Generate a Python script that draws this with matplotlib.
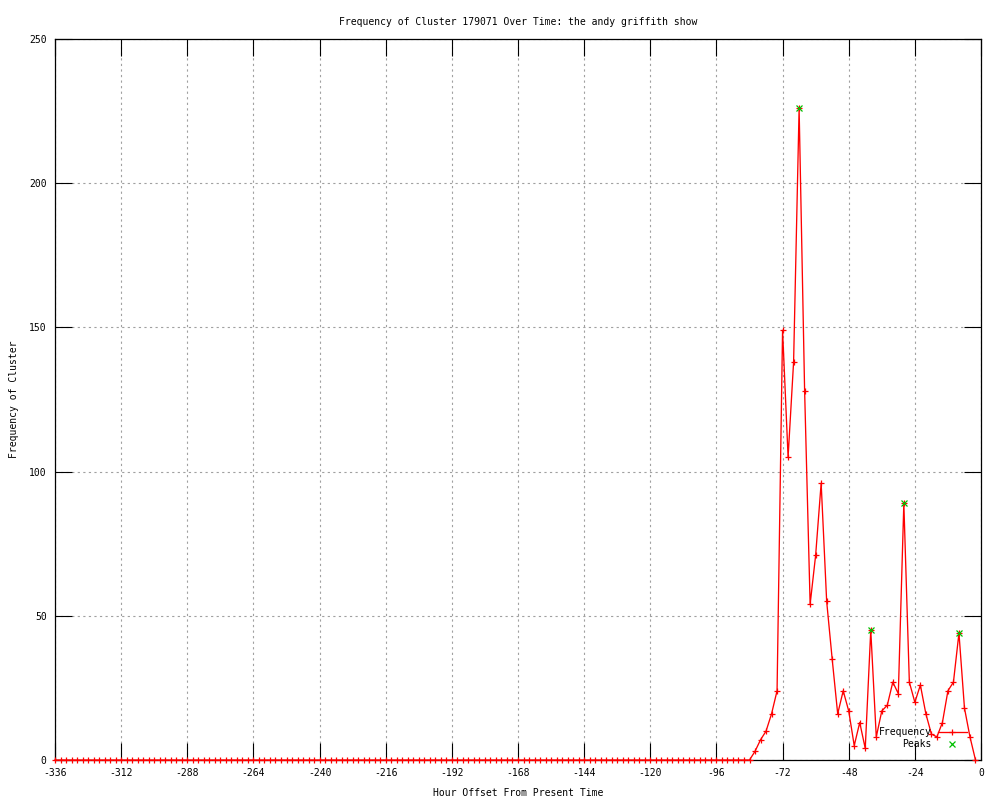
import numpy as np
import matplotlib
matplotlib.use("Agg")
import matplotlib.pyplot as plt
from matplotlib.lines import Line2D

plt.rcParams["font.family"] = "DejaVu Sans Mono"
plt.rcParams["axes.unicode_minus"] = False

# ---------------------------------------------------------------------------
# data
# ---------------------------------------------------------------------------
title = "Frequency of Cluster 179071 Over Time: the andy griffith show"

hours = np.arange(-336, -1, 2)          # -336 ... -2, one sample every 2 h

freq_quiet = [
    0, 0, 0, 0, 0, 0, 0, 0, 0, 0, 0, 0, 0, 0, 0, 0, 0, 0, 0, 0,
    0, 0, 0, 0, 0, 0, 0, 0, 0, 0, 0, 0, 0, 0, 0, 0, 0, 0, 0, 0,
    0, 0, 0, 0, 0, 0, 0, 0, 0, 0, 0, 0, 0, 0, 0, 0, 0, 0, 0, 0,
    0, 0, 0, 0, 0, 0, 0, 0, 0, 0, 0, 0, 0, 0, 0, 0, 0, 0, 0, 0,
    0, 0, 0, 0, 0, 0, 0, 0, 0, 0, 0, 0, 0, 0, 0, 0, 0, 0, 0, 0,
    0, 0, 0, 0, 0, 0, 0, 0, 0, 0, 0, 0, 0, 0, 0, 0, 0, 0, 0, 0,
    0, 0, 0, 0, 0, 0, 0,
]                                        # -336 ... -84
freq_active = [
    3, 7, 10, 16, 24, 149, 105, 138, 226, 128,
    54, 71, 96, 55, 35, 16, 24, 17, 5, 13,
    4, 45, 8, 17, 19, 27, 23, 89, 27, 20,
    26, 16, 9, 8, 13, 24, 27, 44, 18, 8,
    0,
]                                        # -82 ... -2
frequency = np.array(freq_quiet + freq_active)

peak_hours = [-66, -40, -28, -8]
peak_values = [226, 45, 89, 44]

x_ticks = np.arange(-336, 1, 24)
y_ticks = np.arange(0, 251, 50)

# ---------------------------------------------------------------------------
# plot
# ---------------------------------------------------------------------------
FS = 7
RED = "#ff0000"
GREEN = "#00c000"
fig = plt.figure(figsize=(10, 8), dpi=100)
ax = fig.add_axes([0.055, 0.05, 0.926, 0.90125])

ax.plot(hours, frequency, color=RED, lw=0.95, marker="+", ms=5,
        mew=0.9, clip_on=False, zorder=4)
ax.plot(peak_hours, peak_values, ls="none", color=GREEN, marker="x",
        ms=4.5, mew=0.9, clip_on=False, zorder=5)

ax.set_xlim(-336, 0)
ax.set_ylim(0, 250)
ax.set_xticks(x_ticks)
ax.set_yticks(y_ticks)
ax.tick_params(direction="in", length=12, width=0.8, top=True, right=True,
               labelsize=FS, pad=6, color="black")
ax.grid(True, color="#a0a0a0", lw=0.8, ls=(0, (2, 3)))
for sp in ax.spines.values():
    sp.set_linewidth(0.9)

ax.set_title(title, fontsize=FS, pad=10)
ax.set_xlabel("Hour Offset From Present Time", fontsize=FS, labelpad=7)
ax.set_ylabel("Frequency of Cluster", fontsize=FS, labelpad=7)

handles = [
    Line2D([], [], color=RED, lw=0.95, marker="+", ms=5, mew=0.9),
    Line2D([], [], ls="none", color=GREEN, marker="x", ms=4.5, mew=0.9),
]
ax.legend(handles, ["Frequency", "Peaks"], loc="lower right",
          bbox_to_anchor=(0.99, 0.008), frameon=False, markerfirst=False,
          fontsize=FS, handlelength=3.0, handletextpad=0.6, borderpad=0,
          labelspacing=0.25, numpoints=1)

fig.savefig("out.png", dpi=100)
